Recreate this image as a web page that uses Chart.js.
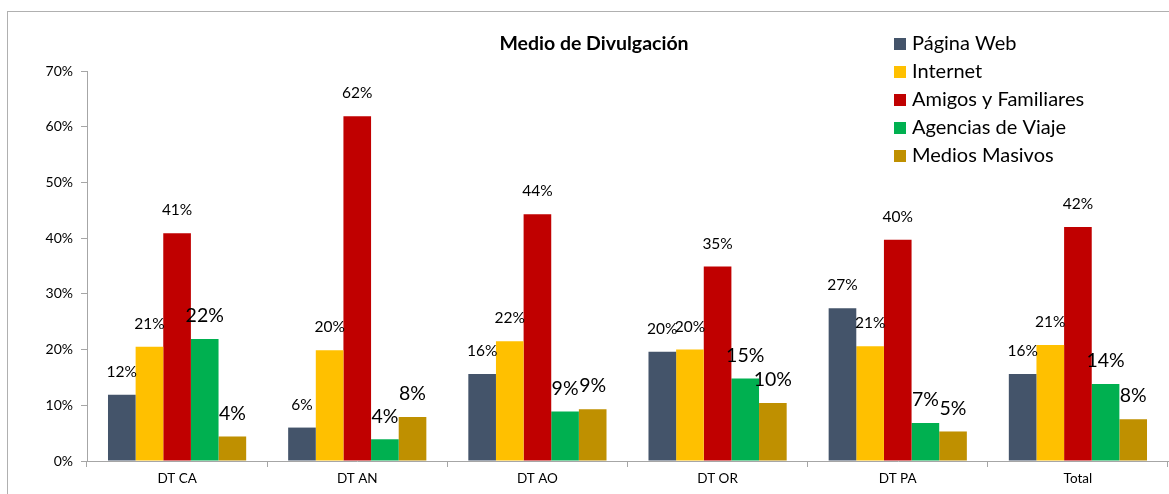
<!DOCTYPE html>
<html>
<head>
<meta charset="utf-8">
<script src="https://cdn.jsdelivr.net/npm/chart.js@4.4.1/dist/chart.umd.min.js"></script>
<style>
  html, body { margin: 0; padding: 0; background: #fff; }
  #wrap { position: relative; width: 1169px; height: 494px; }
  #frame { position: absolute; left: 7px; top: 11px; width: 1170px; height: 500px;
           border-left: 1px solid #b0b0b0; border-top: 1px solid #b0b0b0; }
  canvas { position: absolute; left: 0; top: 0; }
</style>
</head>
<body>
<div id="wrap">
  <div id="frame"></div>
  <canvas id="chart" width="1169" height="494"></canvas>
</div>
<script>
// data
var categories = ["DT CA", "DT AN", "DT AO", "DT OR", "DT PA", "Total"];
var seriesNames = ["Página Web", "Internet", "Amigos y Familiares", "Agencias de Viaje", "Medios Masivos"];
var paginaWeb = [0.119, 0.060, 0.156, 0.196, 0.274, 0.156];
var internet = [0.205, 0.199, 0.215, 0.200, 0.206, 0.208];
var amigos = [0.409, 0.619, 0.443, 0.349, 0.397, 0.420];
var agencias = [0.219, 0.039, 0.089, 0.148, 0.068, 0.138];
var medios = [0.044, 0.079, 0.093, 0.104, 0.053, 0.075];
var yTicks = [0, 0.1, 0.2, 0.3, 0.4, 0.5, 0.6, 0.7];

var colors = ["#44546A", "#FFC000", "#C00000", "#00B050", "#BF9000"];
var labelSizes = [15.5, 15.5, 15.5, 19.5, 19.5];
var allSeries = [paginaWeb, internet, amigos, agencias, medios];

var datasets = [];
for (var i = 0; i < allSeries.length; i++) {
    datasets.push({
        label: seriesNames[i],
        data: allSeries[i],
        backgroundColor: colors[i],
        borderWidth: 0,
        categoryPercentage: 0.767,
        barPercentage: 1.0
    });
}

var FONT = "Lato, 'Liberation Sans', sans-serif";

// labels above bars, title and legend
var extras = {
    id: 'extras',
    afterDatasetsDraw: function (chart) {
        var ctx = chart.ctx;
        ctx.save();
        ctx.fillStyle = '#000';
        ctx.textAlign = 'center';
        ctx.textBaseline = 'middle';
        chart.data.datasets.forEach(function (ds, di) {
            var meta = chart.getDatasetMeta(di);
            ctx.font = labelSizes[di] + "px " + FONT;
            meta.data.forEach(function (bar, j) {
                ctx.fillText(Math.round(ds.data[j] * 100) + '%', bar.x, bar.y - 23);
            });
        });

        // title
        ctx.font = "bold 19.5px " + FONT;
        ctx.fillText("Medio de Divulgación", 594, 44);

        // legend
        ctx.textAlign = 'left';
        ctx.font = "20px " + FONT;
        for (var k = 0; k < seriesNames.length; k++) {
            var y = 44 + k * 28;
            ctx.fillStyle = colors[k];
            ctx.fillRect(894, y - 6, 12, 12);
            ctx.fillStyle = '#000';
            ctx.fillText(seriesNames[k], 912, y);
        }
        ctx.restore();
    }
};

var ctx = document.getElementById("chart");
var myChart = new Chart(ctx, {
    type: 'bar',
    data: { labels: categories, datasets: datasets },
    options: {
        responsive: false,
        animation: false,
        layout: { padding: { left: 7, right: 1, top: 71, bottom: 0 } },
        plugins: {
            legend: { display: false },
            title: { display: false },
            tooltip: { enabled: false }
        },
        scales: {
            x: {
                grid: { drawOnChartArea: false, color: '#a6a6a6', tickLength: 6, offset: true },
                border: { color: '#a6a6a6' },
                ticks: { color: '#000', font: { family: FONT, size: 13.5 }, padding: 4 },
                afterFit: function (s) { s.height = 33; }
            },
            y: {
                min: 0,
                max: 0.7,
                afterBuildTicks: function (s) {
                    s.ticks = yTicks.map(function (v) { return { value: v }; });
                },
                grid: { drawOnChartArea: false, color: '#a6a6a6', tickLength: 6 },
                border: { color: '#a6a6a6' },
                ticks: {
                    color: '#000',
                    font: { family: FONT, size: 14 },
                    padding: 8,
                    callback: function (v) { return Math.round(v * 100) + '%'; }
                },
                afterFit: function (s) { s.width = 80; }
            }
        }
    },
    plugins: [extras]
});
</script>
</body>
</html>
